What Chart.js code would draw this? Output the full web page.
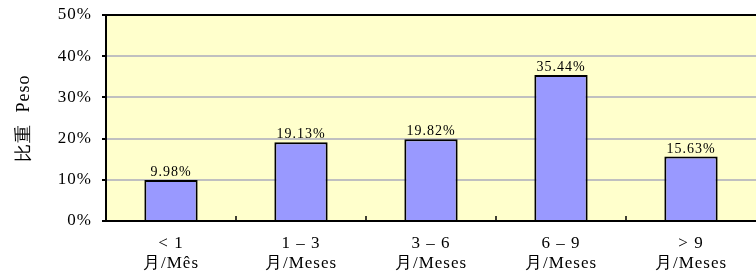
<!DOCTYPE html>
<html>
<head>
<meta charset="utf-8">
<script src="https://cdn.jsdelivr.net/npm/chart.js@4/dist/chart.umd.min.js"></script>
<style>
  html, body { margin: 0; padding: 0; background: #fff; }
  #wrap { width: 756px; height: 271px; }
</style>
</head>
<body>
<div id="wrap"><canvas id="pesoChart" width="756" height="271"></canvas></div>
<script>
// data
const categories = [['< 1', '月/Mês'], ['1 – 3', '月/Meses'], ['3 – 6', '月/Meses'], ['6 – 9', '月/Meses'], ['> 9', '月/Meses']];
const pesoValues = [9.98, 19.13, 19.82, 35.44, 15.63];
const yTicks = [0, 10, 20, 30, 40, 50];

const serif = "'Liberation Serif', 'Times New Roman', serif";

// slightly wide text like the original
const spacingPlugin = {
  id: 'spacing',
  beforeUpdate(chart) { chart.ctx.letterSpacing = '1px'; },
  beforeDraw(chart) { chart.ctx.letterSpacing = '1px'; }
};

// plot background, frame, inner x ticks, value labels
const framePlugin = {
  id: 'frame',
  beforeDraw(chart) {
    const { ctx, chartArea: a } = chart;
    ctx.save();
    ctx.fillStyle = '#FFFFCC';
    ctx.fillRect(a.left, a.top, a.right - a.left, a.bottom - a.top);
    ctx.restore();
  },
  afterDatasetsDraw(chart) {
    const { ctx, chartArea: a } = chart;
    const x = chart.scales.x;
    ctx.save();
    ctx.strokeStyle = '#000';
    ctx.lineWidth = 2;
    ctx.beginPath();
    ctx.moveTo(a.left, a.bottom);
    ctx.lineTo(a.left, a.top);
    ctx.lineTo(a.right + 2, a.top);
    ctx.moveTo(a.left, a.bottom);
    ctx.lineTo(a.right + 2, a.bottom);
    ctx.stroke();
    // short ticks between categories
    ctx.lineWidth = 1.5;
    ctx.beginPath();
    for (let i = 0; i < categories.length - 1; i++) {
      const bx = Math.round((x.getPixelForTick(i) + x.getPixelForTick(i + 1)) / 2);
      ctx.moveTo(bx, a.bottom);
      ctx.lineTo(bx, a.bottom - 5);
    }
    ctx.stroke();
    // value labels
    ctx.fillStyle = '#000';
    ctx.font = '14px ' + serif;
    ctx.textAlign = 'center';
    ctx.textBaseline = 'alphabetic';
    chart.getDatasetMeta(0).data.forEach((bar, i) => {
      ctx.fillText(pesoValues[i].toFixed(2) + '%', bar.x, bar.y - 4);
    });
    ctx.restore();
  }
};

new Chart(document.getElementById('pesoChart'), {
  type: 'bar',
  data: {
    labels: categories,
    datasets: [{
      label: '比重 Peso',
      data: pesoValues,
      backgroundColor: '#9999FF',
      borderColor: '#000',
      borderWidth: 2,
      categoryPercentage: 1,
      barPercentage: 0.41
    }]
  },
  options: {
    responsive: false,
    animation: false,
    layout: { padding: { top: 15, right: -2, left: 0, bottom: 0 } },
    plugins: { legend: { display: false }, tooltip: { enabled: false } },
    scales: {
      x: {
        grid: { display: false },
        border: { display: false },
        ticks: {
          color: '#000',
          font: { family: serif, size: 17, lineHeight: 1.2 },
          padding: 4,
          maxRotation: 0
        },
        afterFit(s) { s.height = 50; s.paddingLeft = 0; s.paddingRight = 0; }
      },
      y: {
        min: 0,
        max: 50,
        afterBuildTicks(s) { s.ticks = yTicks.map(v => ({ value: v })); },
        grid: { color: '#C0C0C0', lineWidth: 2, tickLength: 4, tickColor: '#000' },
        border: { display: false },
        ticks: {
          color: '#000',
          font: { family: serif, size: 17 },
          padding: 10,
          callback: v => v + '%'
        },
        title: {
          display: true,
          text: '比重  Peso',
          color: '#000',
          font: { family: serif, size: 18 },
          padding: { top: 13, bottom: 8 }
        },
        afterFit(s) { s.width = 106; s.paddingTop = 0; s.paddingBottom = 0; }
      }
    }
  },
  plugins: [spacingPlugin, framePlugin]
});
</script>
</body>
</html>
